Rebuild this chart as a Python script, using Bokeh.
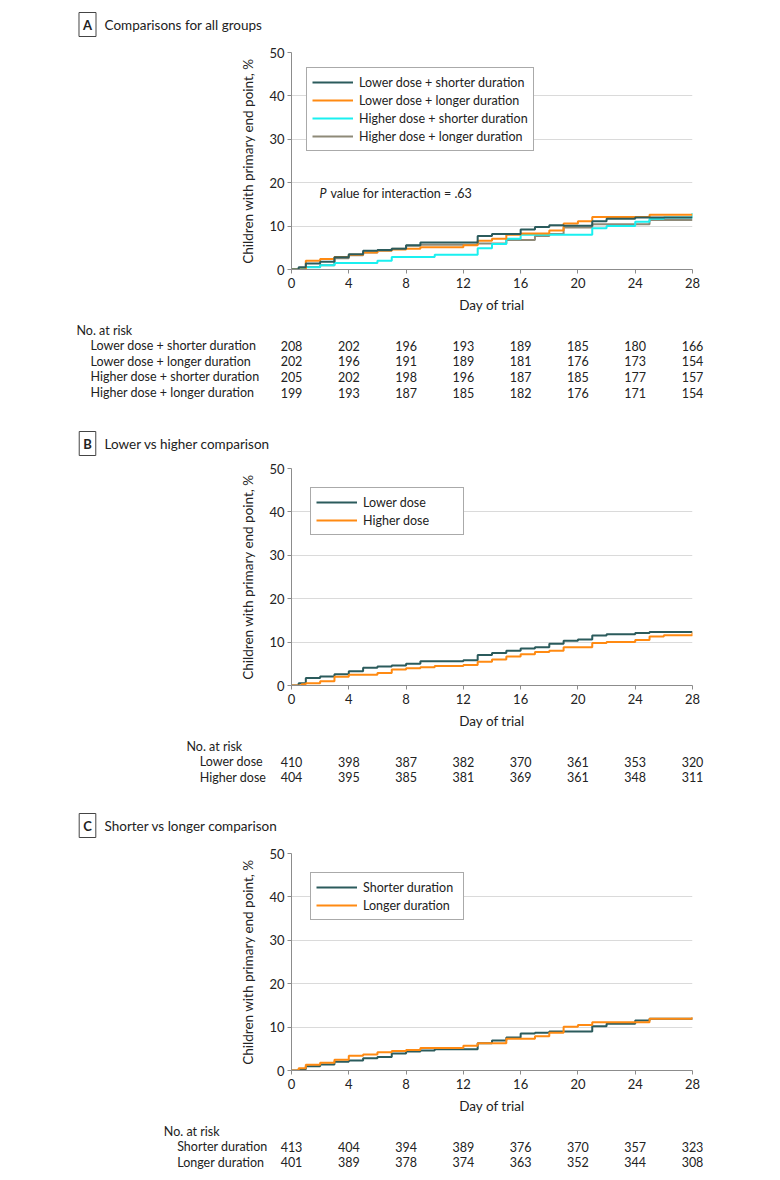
from bokeh.plotting import figure
from bokeh.models import Range1d, FixedTicker, Legend, LegendItem, Label
from bokeh.embed import file_html
from bokeh.resources import INLINE

FONT = "Lato"
TXT = "#222222"
DARK = "#2b5b5c"
ORANGE = "#ff8a12"
CYAN = "#1af0f0"
GRAY = "#8e8a78"

# ---------------- data ----------------
day_ticks = [0, 4, 8, 12, 16, 20, 24, 28]
pct_ticks = [0, 10, 20, 30, 40, 50]

# Panel A
a_names = ["Lower dose + shorter duration", "Lower dose + longer duration",
           "Higher dose + shorter duration", "Higher dose + longer duration"]
a_ls_x = [0, 0.5, 1, 2, 3, 4, 5, 6, 7, 8, 9, 13, 14, 16, 17, 18, 19, 21, 22, 24, 28]
a_ls_y = [0, 0.5, 1.4, 1.8, 2.8, 3.5, 4.3, 4.5, 4.8, 5.6, 6.2, 7.7, 8.2, 9.2, 9.8, 10.2, 10.1, 11.1, 11.7, 12.0, 12.0]
a_ll_x = [0, 1, 2, 3, 4, 5, 6, 7, 8, 9, 12, 13, 14, 15, 16, 18, 19, 20, 21, 25, 28]
a_ll_y = [0, 2.0, 2.4, 2.9, 3.4, 3.9, 4.4, 4.6, 4.8, 5.1, 5.6, 6.6, 7.1, 8.0, 8.3, 9.0, 10.6, 11.1, 12.1, 12.6, 12.6]
a_hs_x = [0, 0.7, 1, 2, 3, 6, 7, 10, 13, 14, 15, 16, 21, 22, 24, 25, 26, 28]
a_hs_y = [0, 0.3, 0.5, 1.0, 1.5, 2.0, 2.9, 3.4, 4.9, 5.9, 7.1, 8.0, 9.5, 10.0, 11.0, 11.7, 12.0, 13.0]
a_hl_x = [0, 1, 2, 3, 4, 5, 6, 7, 8, 9, 13, 15, 17, 18, 19, 21, 25, 28]
a_hl_y = [0, 0.6, 1.0, 2.6, 3.3, 3.9, 4.3, 4.8, 5.5, 5.7, 6.0, 6.8, 7.7, 8.2, 9.7, 10.4, 11.4, 11.4]
a_risk = [[208, 202, 196, 193, 189, 185, 180, 166],
          [202, 196, 191, 189, 181, 176, 173, 154],
          [205, 202, 198, 196, 187, 185, 177, 157],
          [199, 193, 187, 185, 182, 176, 171, 154]]

# Panel B
b_names = ["Lower dose", "Higher dose"]
b_lo_x = [0, 0.5, 1, 2, 3, 4, 5, 6, 7, 8, 9, 12, 13, 14, 15, 16, 17, 18, 19, 20, 21, 22, 24, 25, 28]
b_lo_y = [0, 0.5, 1.7, 2.1, 2.6, 3.3, 4.1, 4.4, 4.6, 5.0, 5.6, 5.8, 7.0, 7.5, 8.0, 8.5, 8.8, 9.6, 10.3, 10.6, 11.5, 11.8, 12.1, 12.3, 12.3]
b_hi_x = [0, 0.7, 1, 2, 3, 4, 6, 7, 8, 9, 10, 12, 13, 14, 15, 16, 17, 18, 19, 21, 22, 24, 25, 26, 28]
b_hi_y = [0, 0.3, 0.5, 1.0, 2.0, 2.5, 2.9, 3.7, 4.0, 4.2, 4.5, 4.7, 5.5, 6.0, 6.7, 7.2, 7.7, 8.0, 8.8, 9.8, 10.0, 10.5, 11.3, 11.6, 12.2]
b_risk = [[410, 398, 387, 382, 370, 361, 353, 320],
          [404, 395, 385, 381, 369, 361, 348, 311]]

# Panel C
c_names = ["Shorter duration", "Longer duration"]
c_sh_x = [0, 0.5, 1, 2, 3, 4, 5, 6, 7, 8, 9, 10, 13, 14, 15, 16, 17, 18, 21, 22, 24, 25, 28]
c_sh_y = [0, 0.3, 1.0, 1.4, 2.0, 2.3, 2.8, 3.1, 3.9, 4.4, 4.6, 4.9, 6.3, 6.9, 7.6, 8.5, 8.7, 9.0, 10.2, 10.8, 11.5, 11.9, 12.0]
c_lo_x = [0, 0.5, 1, 2, 3, 4, 5, 6, 7, 8, 9, 12, 13, 15, 17, 18, 19, 20, 21, 25, 28]
c_lo_y = [0, 0.5, 1.3, 1.8, 2.5, 3.4, 3.7, 4.2, 4.5, 4.7, 5.2, 5.7, 6.3, 7.3, 7.9, 8.7, 10.1, 10.5, 11.1, 11.9, 12.3]
c_risk = [[413, 404, 394, 389, 376, 370, 357, 323],
          [401, 389, 378, 374, 363, 352, 344, 308]]

# ---------------- layout constants ----------------
W = 780
FL = 291          # frame left (px)
FW = 401          # frame width (px)
FR = W - FL - FW
PPD = FW / 28.0
SMALL = "12.5px"
TICK = "13px"
AXL = "13.5px"


def day_of(page_x):
    return (page_x - FL) / PPD


def text_fig(h):
    p = figure(width=W, height=h, x_range=Range1d(-FL / PPD, (W - FL) / PPD),
               y_range=Range1d(h, 0), output_backend="svg", toolbar_location=None,
               min_border_left=0, min_border_right=0,
               min_border_top=0, min_border_bottom=0)
    p.xaxis.visible = False
    p.yaxis.visible = False
    p.grid.visible = False
    p.outline_line_color = None
    return p


def lab(p, x, y, s, align="left", size=SMALL, style="normal", **kw):
    p.add_layout(Label(x=x, y=y, x_units="data", y_units="data", text=s,
                       text_font=FONT, text_font_size=size, text_align=align,
                       text_baseline="middle", text_color=TXT,
                       text_font_style=style, **kw))


def header(p, y, letter, title):
    lab(p, day_of(87), y, letter, align="center", size="13px", style="bold",
        border_line_color="#444444", border_line_width=1,
        background_fill_color="white", padding=4)
    lab(p, day_of(104), y, title, size="13.5px")


def risk(p, y_head, ys, label_px, head_px, names, table):
    lab(p, day_of(head_px), y_head, "No. at risk")
    for yy, name, row in zip(ys, names, table):
        lab(p, day_of(label_px), yy, name)
        for d, v in zip(day_ticks, row):
            lab(p, d, yy, str(v), align="center")


def plot_fig(h, top, bottom):
    p = figure(width=W, height=h, x_range=Range1d(0, 28), y_range=Range1d(0, 50),
               output_backend="svg", toolbar_location=None,
               min_border_left=FL, min_border_right=FR,
               min_border_top=top, min_border_bottom=bottom)
    p.outline_line_color = None
    p.xgrid.visible = False
    p.ygrid.grid_line_color = "#dadada"
    p.ygrid.ticker = FixedTicker(ticks=pct_ticks)
    p.xaxis.ticker = FixedTicker(ticks=day_ticks)
    p.yaxis.ticker = FixedTicker(ticks=pct_ticks)
    for ax in (p.xaxis, p.yaxis):
        ax.axis_line_color = "#8c8c8c"
        ax.major_tick_line_color = "#8c8c8c"
        ax.minor_tick_line_color = None
        ax.major_tick_in = 0
        ax.major_tick_out = 4
        ax.major_label_text_font = FONT
        ax.major_label_text_font_size = TICK
        ax.major_label_text_color = TXT
        ax.axis_label_text_font = FONT
        ax.axis_label_text_font_size = AXL
        ax.axis_label_text_font_style = "normal"
        ax.axis_label_text_color = TXT
    p.xaxis.major_label_standoff = 4
    p.xaxis.axis_label_standoff = 6
    p.yaxis.major_label_standoff = 3
    p.yaxis.axis_label_standoff = 10
    p.xaxis.axis_label = "Day of trial"
    p.yaxis.axis_label = "Children with primary end point, %"
    return p


def add_legend(p, items, margin, label_width=20):
    lg = Legend(items=[LegendItem(label=n, renderers=[r]) for n, r in items],
                location="top_left", margin=margin, padding=5, spacing=0,
                glyph_width=41, glyph_height=18, label_height=18, label_standoff=6,
                label_width=label_width,
                border_line_color="#555555", border_line_width=1,
                label_text_font=FONT, label_text_font_size=SMALL,
                label_text_color=TXT, background_fill_color="white",
                background_fill_alpha=1)
    p.add_layout(lg)


LW = 2

# ---------------- Panel A ----------------
f1 = text_fig(40)
header(f1, 24, "A", "Comparisons for all groups")

pA = plot_fig(278, 12, 49)
r_hl = pA.step(a_hl_x, a_hl_y, mode="after", line_color=GRAY, line_width=LW)
r_hs = pA.step(a_hs_x, a_hs_y, mode="after", line_color=CYAN, line_width=LW)
r_ll = pA.step(a_ll_x, a_ll_y, mode="after", line_color=ORANGE, line_width=LW)
r_ls = pA.step(a_ls_x, a_ls_y, mode="after", line_color=DARK, line_width=LW)
add_legend(pA, list(zip(a_names, [r_ls, r_ll, r_hs, r_hl])), 15)
pA.add_layout(Label(x=1.95, y=17.5, text="P", text_font=FONT, text_font_size=SMALL,
                    text_font_style="italic", text_baseline="middle", text_color=TXT))
pA.add_layout(Label(x=1.95, y=17.5, x_offset=11, text="value for interaction = .63",
                    text_font=FONT, text_font_size=SMALL, text_baseline="middle",
                    text_color=TXT))

f3 = text_fig(142)
risk(f3, 12, [27, 42.7, 58.3, 74], 90, 76, a_names, a_risk)
header(f3, 125, "B", "Lower vs higher comparison")

# ---------------- Panel B ----------------
pB = plot_fig(276, 8, 51)
r_bl = pB.step(b_lo_x, b_lo_y, mode="after", line_color=DARK, line_width=LW)
r_bh = pB.step(b_hi_x, b_hi_y, mode="after", line_color=ORANGE, line_width=LW)
add_legend(pB, list(zip(b_names, [r_bl, r_bh])), 19, label_width=95)

f5 = text_fig(109)
risk(f5, 9.7, [25, 40.7], 199.3, 186, b_names, b_risk)
header(f5, 89, "C", "Shorter vs longer comparison")

# ---------------- Panel C ----------------
pC = plot_fig(275, 8, 50)
r_cs = pC.step(c_sh_x, c_sh_y, mode="after", line_color=DARK, line_width=LW)
r_cl = pC.step(c_lo_x, c_lo_y, mode="after", line_color=ORANGE, line_width=LW)
add_legend(pC, list(zip(c_names, [r_cs, r_cl])), 19, label_width=95)

f7 = text_fig(60)
risk(f7, 10.7, [26, 41.7], 176.7, 163.3, c_names, c_risk)

roots = [f1, pA, f3, pB, f5, pC, f7]

open("out.html", "w").write(file_html(roots, INLINE))
